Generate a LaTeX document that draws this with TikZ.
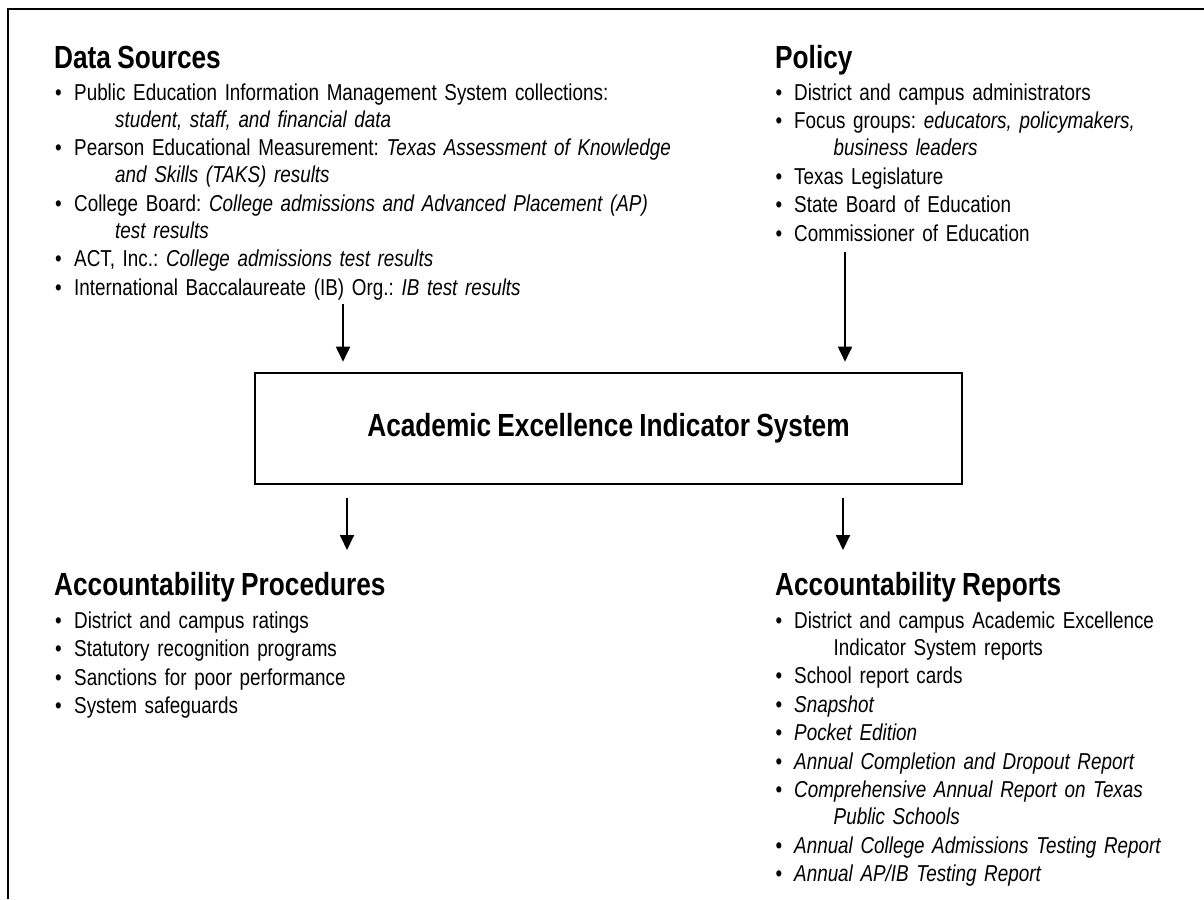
\documentclass[tikz,border=0pt]{standalone}
\usepackage{fontspec}
\setmainfont[FakeStretch=0.82,WordSpace=0.85]{Liberation Sans}
\usetikzlibrary{arrows.meta}
\frenchspacing
\newcommand\bulA{\makebox[19pt][l]{\textbullet}}
\newcommand\bulB{\makebox[18.5pt][l]{\textbullet}}
\newcommand\cnt[1]{\hspace*{#1}}
\begin{document}
\begin{tikzpicture}[x=1pt,y=-1pt,
  head/.style={font=\fontsize{32}{36}\selectfont\bfseries, anchor=base west, inner sep=0pt},
  lst/.style={font=\fontsize{23}{27}\selectfont\frenchspacing, anchor=base west, inner sep=0pt, text width=700pt, align=left},
  flow/.style={line width=1.8pt, -{Triangle[width=14pt,length=15pt]}},
  mainbox/.style={draw, line width=2.6pt, minimum width=707pt, minimum height=111pt, inner sep=0pt, font=\fontsize{32}{36}\selectfont\bfseries}
  ]
\useasboundingbox (0,0) rectangle (1204,899);
\draw[line width=2.4pt] (8,899) -- (8,9) -- (1204,9);

\node[head] (dsh) at (54,68) {Data Sources};
\node[lst] (dsl) at (55,100) {\bulA Public Education Information Management System collections:\\
\cnt{60pt}\textit{student, staff, and financial data}\\[1.5pt]
\bulA Pearson Educational Measurement: \textit{Texas Assessment of Knowledge}\\
\cnt{60pt}\textit{and Skills (TAKS) results}\\[1.5pt]
\bulA College Board: \textit{College admissions and Advanced Placement (AP)}\\
\cnt{60pt}\textit{test results}\\[1.5pt]
\bulA ACT, Inc.: \textit{College admissions test results}\\[1.5pt]
\bulA International Baccalaureate (IB) Org.: \textit{IB test results}};

\node[head] (polh) at (775,68) {Policy};
\node[lst] (poll) at (775.5,100) {\bulB District and campus administrators\\[1.5pt]
\bulB Focus groups: \textit{educators, policymakers,}\\
\cnt{58pt}\textit{business leaders}\\[1.5pt]
\bulB Texas Legislature\\[1.5pt]
\bulB State Board of Education\\[1.5pt]
\bulB Commissioner of Education};

\node[mainbox] (aeis) at (608.5,428.5) {Academic Excellence Indicator System};

\coordinate (a1s) at (343,304);
\coordinate (a2s) at (845,252);
\draw[flow, shorten >=10pt] (a1s) -- (a1s |- aeis.north);
\draw[flow, shorten >=10pt] (a2s) -- (a2s |- aeis.north);

\coordinate (b1e) at (347,550);
\coordinate (b2e) at (843,550);
\draw[flow, shorten <=13pt] (b1e |- aeis.south) -- (b1e);
\draw[flow, shorten <=13pt] (b2e |- aeis.south) -- (b2e);

\node[head] (aph) at (54,595) {Accountability Procedures};
\node[lst] (apl) at (55,628) {\bulA District and campus ratings\\[1.5pt]
\bulA Statutory recognition programs\\[1.5pt]
\bulA Sanctions for poor performance\\[1.5pt]
\bulA System safeguards};

\node[head] (arh) at (775,595) {Accountability Reports};
\node[lst] (arl) at (775.5,628) {\bulB District and campus Academic Excellence\\
\cnt{58pt}Indicator System reports\\[1.5pt]
\bulB School report cards\\[1.5pt]
\bulB \textit{Snapshot}\\[1.5pt]
\bulB \textit{Pocket Edition}\\[1.5pt]
\bulB \textit{Annual Completion and Dropout Report}\\[1.5pt]
\bulB \textit{Comprehensive Annual Report on Texas}\\
\cnt{58pt}\textit{Public Schools}\\[1.5pt]
\bulB \textit{Annual College Admissions Testing Report}\\[1.5pt]
\bulB \textit{Annual AP/IB Testing Report}};
\end{tikzpicture}
\end{document}
